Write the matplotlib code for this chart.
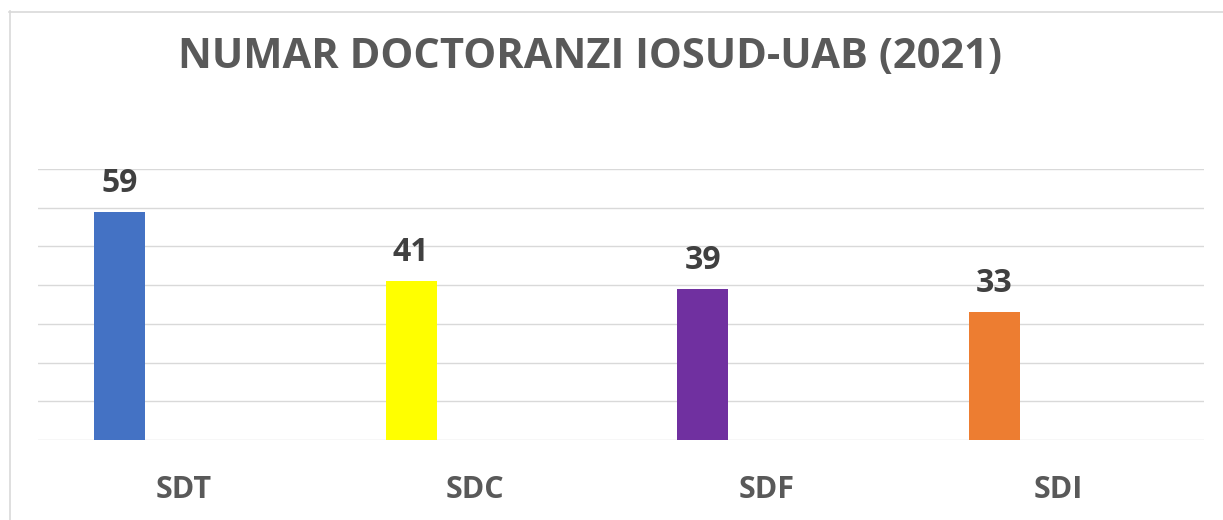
import matplotlib.pyplot as plt
from matplotlib.lines import Line2D

# date grafic
categorii = ['SDT', 'SDC', 'SDF', 'SDI']
doctoranzi = [59, 41, 39, 33]
culori = ['#4472C4', '#FFFF00', '#7030A0', '#ED7D31']
titlu = 'NUMAR DOCTORANZI IOSUD-UAB (2021)'

plt.rcParams['font.family'] = ['Open Sans', 'DejaVu Sans']

fig = plt.figure(figsize=(12.23, 5.2), dpi=100)
ax = fig.add_axes([38 / 1223, 80 / 520, 1166 / 1223, 271 / 520])

x = list(range(len(categorii)))
bare_x = [i - 0.22 for i in x]
bars = ax.bar(bare_x, doctoranzi, width=0.175, color=culori, zorder=3)

# etichete valori deasupra barelor
for b, v in zip(bars, doctoranzi):
    ax.annotate(str(v), (b.get_x() + b.get_width() / 2, v), xytext=(0, 14.4),
                textcoords='offset points', ha='center', va='baseline',
                fontsize=23, fontweight='bold', color='#404040')

ax.set_xlim(-0.5, 3.5)
ax.set_ylim(0, 70)
ax.set_yticks(range(0, 71, 10))
ax.yaxis.grid(True, color='#D9D9D9', linewidth=1.0, zorder=0)
ax.tick_params(axis='y', left=False, labelleft=False)
ax.set_xticks(x)
ax.set_xticklabels(categorii, fontsize=22, fontweight='bold', color='#595959')
ax.tick_params(axis='x', bottom=False, pad=22)
for s in ax.spines.values():
    s.set_visible(False)

# chenarul graficului
fig.add_artist(Line2D([9.5 / 1223, 9.5 / 1223], [0, 1 - 11 / 520], transform=fig.transFigure,
                      color='#D9D9D9', linewidth=1.2))
fig.add_artist(Line2D([9 / 1223, 1], [1 - 11.5 / 520, 1 - 11.5 / 520], transform=fig.transFigure,
                      color='#D9D9D9', linewidth=1.2))

fig.text(590 / 1223, 1 - 57.5 / 520, titlu, ha='center', va='center',
         fontsize=30, fontweight='bold', color='#595959')

fig.savefig('out.png', dpi=100)
